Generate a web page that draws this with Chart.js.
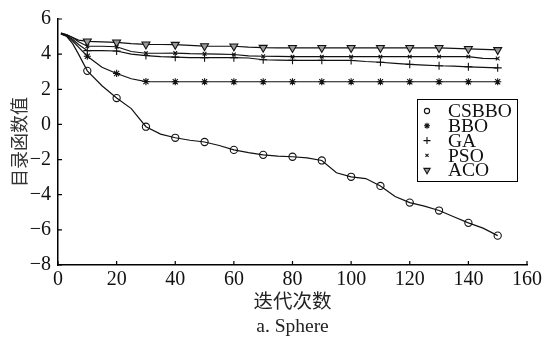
<!DOCTYPE html>
<html>
<head>
<meta charset="utf-8">
<script src="https://cdn.jsdelivr.net/npm/chart.js@4.4.1/dist/chart.umd.min.js"></script>
<style>
  html, body { margin: 0; padding: 0; background: #fff; }
</style>
</head>
<body>
<canvas id="grafico" width="548" height="340"></canvas>
<script>
// iterações (eixo x) e valores
const iteracoes = [1, 3, 5, 7, 10, 15, 20, 25, 30, 35, 40, 45, 50, 55, 60, 65, 70, 75, 80, 85, 90, 95, 100, 105, 110, 115, 120, 125, 130, 135, 140, 145, 150];
const nomes = ['CSBBO', 'BBO', 'GA', 'PSO', 'ACO'];
const csbbo = [5.15, 5.0, 4.6, 4.0, 3.05, 2.2, 1.5, 0.9, -0.13, -0.55, -0.76, -0.9, -1.0, -1.2, -1.45, -1.6, -1.73, -1.8, -1.84, -1.9, -2.05, -2.75, -2.98, -3.08, -3.5, -4.1, -4.45, -4.65, -4.9, -5.25, -5.6, -5.9, -6.33];
const bbo = [5.15, 5.05, 4.75, 4.4, 3.88, 3.25, 2.9, 2.6, 2.44, 2.43, 2.43, 2.43, 2.43, 2.43, 2.43, 2.43, 2.43, 2.43, 2.43, 2.43, 2.43, 2.43, 2.43, 2.43, 2.43, 2.43, 2.43, 2.43, 2.43, 2.43, 2.43, 2.43, 2.43];
const ga = [5.15, 5.05, 4.85, 4.55, 4.2, 4.2, 4.18, 4.0, 3.92, 3.86, 3.83, 3.8, 3.8, 3.8, 3.8, 3.78, 3.68, 3.66, 3.65, 3.65, 3.65, 3.64, 3.64, 3.58, 3.54, 3.48, 3.42, 3.38, 3.34, 3.32, 3.28, 3.25, 3.22];
const pso = [5.2, 5.1, 4.95, 4.7, 4.45, 4.45, 4.42, 4.15, 4.05, 4.05, 4.06, 4.03, 4.02, 4.0, 3.98, 3.9, 3.88, 3.87, 3.86, 3.86, 3.86, 3.86, 3.86, 3.86, 3.86, 3.86, 3.86, 3.86, 3.86, 3.86, 3.86, 3.76, 3.75];
const aco = [5.2, 5.1, 4.95, 4.8, 4.73, 4.7, 4.67, 4.6, 4.56, 4.55, 4.54, 4.5, 4.46, 4.45, 4.45, 4.4, 4.37, 4.36, 4.36, 4.36, 4.36, 4.36, 4.36, 4.36, 4.36, 4.36, 4.36, 4.36, 4.36, 4.33, 4.3, 4.27, 4.24];
const ticksX = [0, 20, 40, 60, 80, 100, 120, 140, 160];
const ticksY = [-8, -6, -4, -2, 0, 2, 4, 6];

// estilos dos marcadores (plot e legenda)
const estilos = [
    { pointStyle: 'circle', radius: 3.6, fill: 'rgba(0,0,0,0)', legRadius: 2.6 },
    { pointStyle: 'star', radius: 3.6, fill: '#111', legRadius: 3 },
    { pointStyle: 'cross', radius: 4, fill: '#111', legRadius: 3.5 },
    { pointStyle: 'crossRot', radius: 2.6, fill: '#111', legRadius: 2.2 },
    { pointStyle: 'triangle', radius: 4.6, fill: '#999', legRadius: 3.6, rotation: 180 }
];

const SERIF = "'Liberation Serif', 'Noto Sans CJK SC', serif";
const series = [csbbo, bbo, ga, pso, aco];

const datasets = series.map((vals, i) => ({
    label: nomes[i],
    data: vals.map((v, k) => ({ x: iteracoes[k], y: v })),
    borderColor: '#111',
    borderWidth: 1.2,
    tension: 0,
    pointStyle: estilos[i].pointStyle,
    pointRotation: estilos[i].rotation || 0,
    pointRadius: ctx => (iteracoes[ctx.dataIndex] % 10 === 0 ? estilos[i].radius : 0),
    pointBorderColor: '#111',
    pointBorderWidth: 1.1,
    pointBackgroundColor: estilos[i].fill
}));

// ticks para dentro + legenda desenhada à mão
const extras = {
    id: 'extras',
    afterDraw(chart) {
        const { ctx, chartArea: a, scales: { x, y } } = chart;
        ctx.save();
        ctx.strokeStyle = '#000';
        ctx.lineWidth = 1.2;
        ctx.beginPath();
        ticksX.forEach(v => {
            const px = x.getPixelForValue(v);
            ctx.moveTo(px, a.bottom);
            ctx.lineTo(px, a.bottom - 4);
        });
        ticksY.forEach(v => {
            const py = y.getPixelForValue(v);
            ctx.moveTo(a.left, py);
            ctx.lineTo(a.left + 4, py);
        });
        ctx.stroke();

        // legenda
        const lx = 417, ly = 99, lw = 100, lh = 82, passo = 14.8;
        ctx.fillStyle = '#fff';
        ctx.fillRect(lx, ly, lw, lh);
        ctx.lineWidth = 1;
        ctx.strokeRect(lx + 0.5, ly + 0.5, lw, lh);
        ctx.font = '19.5px ' + SERIF;
        ctx.textBaseline = 'middle';
        ctx.textAlign = 'left';
        nomes.forEach((n, i) => {
            const cy = ly + 12 + i * passo;
            ctx.fillStyle = estilos[i].fill;
            ctx.strokeStyle = '#111';
            ctx.lineWidth = 1.1;
            Chart.helpers.drawPoint(ctx, {
                pointStyle: estilos[i].pointStyle,
                rotation: estilos[i].rotation || 0,
                radius: estilos[i].legRadius,
                borderWidth: 1.1
            }, lx + 10, cy);
            ctx.fillStyle = '#111';
            ctx.fillText(n, lx + 31, cy + 1);
        });
        ctx.restore();
    }
};

new Chart(document.getElementById('grafico'), {
    type: 'line',
    data: { datasets },
    options: {
        responsive: false,
        animation: false,
        events: [],
        layout: { padding: { top: 18, right: 21, left: 0, bottom: 0 } },
        plugins: { legend: { display: false }, tooltip: { enabled: false } },
        scales: {
            x: {
                type: 'linear',
                min: 0, max: 160,
                afterBuildTicks: s => { s.ticks = ticksX.map(v => ({ value: v })); },
                afterFit: s => { s.height = 75; },
                grid: { display: false, drawTicks: false },
                border: { display: true, color: '#000', width: 1.5 },
                ticks: { color: '#111', padding: 3, font: { family: SERIF, size: 20 } },
                title: {
                    display: true,
                    text: ['迭代次数', 'a. Sphere'],
                    color: '#222',
                    padding: { top: 0, bottom: 1 },
                    font: { family: SERIF, size: 19.5, lineHeight: '24px' }
                }
            },
            y: {
                min: -8, max: 6,
                afterBuildTicks: s => { s.ticks = ticksY.map(v => ({ value: v })); },
                afterFit: s => { s.width = 58; },
                grid: { display: false, drawTicks: false },
                border: { display: true, color: '#000', width: 1.5 },
                ticks: {
                    color: '#111', padding: 7,
                    font: { family: SERIF, size: 20 },
                    callback: v => String(v).replace('-', '\u2212')
                },
                title: {
                    display: true,
                    text: '目录函数值',
                    color: '#333',
                    padding: { top: 8, bottom: 0 },
                    font: { family: "'Noto Sans CJK SC', sans-serif", size: 18, lineHeight: 1.2 }
                }
            }
        }
    },
    plugins: [extras]
});
</script>
</body>
</html>
